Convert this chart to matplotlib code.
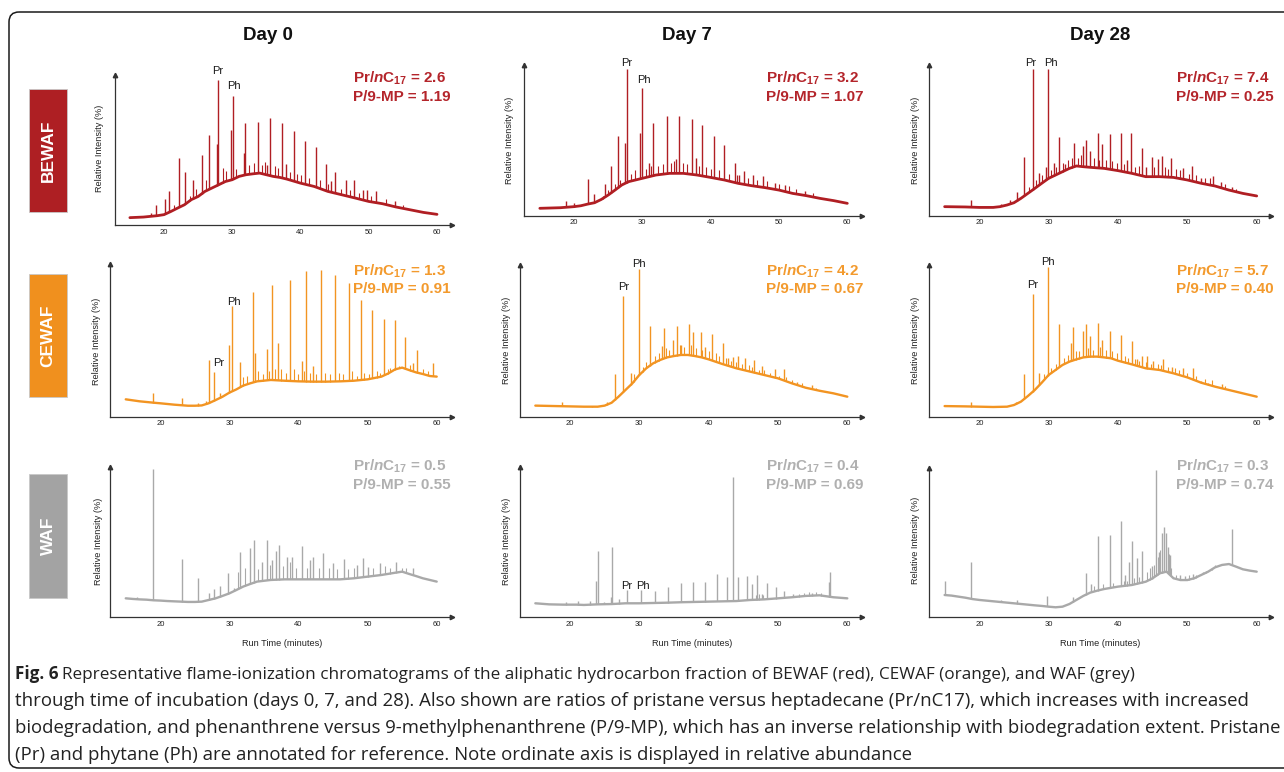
import numpy as np
import matplotlib
matplotlib.use("Agg")
import matplotlib.pyplot as plt
from matplotlib.patches import FancyBboxPatch, Rectangle

plt.rcParams['font.family'] = ['Liberation Sans', 'DejaVu Sans']
plt.rcParams['mathtext.fontset'] = 'custom'
plt.rcParams['mathtext.rm'] = 'Liberation Sans:bold'
plt.rcParams['mathtext.it'] = 'Liberation Sans:italic:bold'
plt.rcParams['mathtext.bf'] = 'Liberation Sans:bold'

# ---------------- data (% of axis height) ----------------
days = ["Day 0", "Day 7", "Day 28"]
samples = ["BEWAF", "CEWAF", "WAF"]
ticks = [20, 30, 40, 50, 60]

pr_nc17 = {"BEWAF": ["2.6", "3.2", "7.4"], "CEWAF": ["1.3", "4.2", "5.7"], "WAF": ["0.5", "0.4", "0.3"]}
p_9mp = {"BEWAF": ["1.19", "1.07", "0.25"], "CEWAF": ["0.91", "0.67", "0.40"], "WAF": ["0.55", "0.69", "0.74"]}

# BEWAF day 0
bewaf_d0_bt = [15, 17, 19, 20, 21, 22, 23, 24, 25, 26, 27, 28, 29, 30, 31, 32, 33, 34, 35, 36, 37, 38, 40, 42, 44, 46, 48, 50, 52, 54, 56, 58, 60]
bewaf_d0_by = [4.9, 5.3, 6.2, 6.9, 9, 11.3, 13.5, 16.9, 19, 22.4, 24.6, 26.8, 29, 30.2, 32.4, 33.5, 34.1, 34.6, 33.5, 32.4, 31.7, 30.6, 27.9, 25.7, 22.4, 20.2, 18, 15.7, 14.2, 12, 10.2, 8.4, 7.1]
bewaf_d0_pt = [18.1, 18.9, 20.1, 20.7, 22.2, 23.1, 24.3, 25.5, 26.6, 27.7, 27.9, 29.8, 30.1, 31.7, 31.9, 33.7, 35.1, 35.55, 37.3, 37.9, 39.0, 40.6, 42.2, 43.7, 44.5, 45.1, 46.6, 47.9, 49.1, 49.7, 51.0, 53.9]
bewaf_d0_ph = [8, 13.5, 17.5, 22.4, 44.6, 35, 30, 46.6, 60, 54, 96.7, 63.4, 86.3, 48, 68.3, 68.7, 40, 71.4, 67.8, 40.8, 62.7, 56.3, 52.1, 40.8, 29, 35.3, 30.2, 30.2, 23, 23, 22.4, 16.2]
bewaf_d0_mt = [21.5, 23.8, 24.7, 26.2, 28.6, 29.1, 30.6, 32.5, 33.2, 34.3, 34.8, 36.2, 36.7, 38.4, 39.5, 40.0, 41.3, 42.8, 44.0, 46.0, 47.2, 48.5, 50.3, 52.5, 55.0]
bewaf_d0_mh = [13, 19, 24, 30, 38, 36, 37, 40, 41, 40, 42, 39, 38, 35, 34, 33, 31, 30, 27, 24, 23, 21, 19, 17, 13.5]

# BEWAF day 7
bewaf_d7_bt = [15, 18, 20, 21, 22, 23, 24, 25, 26, 27, 28, 29, 30, 32, 34, 36, 38, 40, 42, 44, 46, 48, 50, 52, 54, 56, 58, 60]
bewaf_d7_by = [4.9, 5.3, 6, 6.6, 7.7, 8.6, 10.8, 13.7, 17, 20.4, 22.6, 23.7, 24.8, 27, 28.1, 28.1, 27, 25.4, 23.7, 21.5, 19.9, 18.6, 17, 14.8, 13.3, 11.5, 10, 8.2]
bewaf_d7_pt = [18.8, 20.0, 22.1, 23.0, 24.6, 25.4, 26.4, 27.5, 27.7, 29.7, 29.9, 31.0, 31.6, 33.6, 35.0, 35.4, 37.2, 37.9, 38.8, 40.5, 42.0, 43.5, 44.2, 44.9, 46.2, 47.6, 49.4, 50.9, 53.8]
bewaf_d7_ph = [9.7, 8.2, 24.3, 14.4, 21, 33.2, 52.9, 48, 97.1, 55, 84.5, 34.7, 61.7, 65.9, 37.4, 66.2, 64.2, 38.5, 60.2, 52.9, 46.9, 35.2, 27, 29.6, 27, 26.3, 21.9, 20.6, 16.6]
bewaf_d7_mt = [24.2, 25.0, 26.0, 26.8, 28.3, 28.9, 30.5, 31.2, 32.3, 33.0, 34.2, 34.7, 36.0, 36.6, 38.3, 39.3, 40.0, 41.2, 42.7, 43.8, 45.5, 46.8, 48.3, 50.0, 51.5, 52.5, 55.0]
bewaf_d7_mh = [13, 17, 21, 24, 28, 30, 31, 33, 33, 34, 35, 36, 35, 34, 33, 32, 31, 30, 28, 27, 25, 24, 23, 21, 19.5, 18, 15]

# BEWAF day 28
bewaf_d28_bt = [15, 18, 20, 22, 23, 24, 25, 26, 27, 28, 29, 30, 31, 32, 33, 34, 35, 36, 38, 40, 42, 44, 46, 48, 50, 52, 54, 56, 58, 60]
bewaf_d28_by = [6, 5.8, 5.5, 5.5, 6, 7.1, 8.6, 11.5, 14.8, 18.1, 21.5, 24.8, 27, 29.2, 31.4, 33, 32.5, 32.1, 31.4, 29.9, 28.1, 25.9, 25.9, 25.4, 23.7, 21.5, 19.7, 17, 14.8, 13.1]
bewaf_d28_pt = [18.85, 22.2, 23.1, 24.4, 25.4, 26.4, 27.7, 28.65, 29.6, 29.85, 30.7, 31.5, 32.4, 33.6, 35.0, 35.4, 36.0, 37.1, 37.7, 38.8, 40.4, 41.25, 41.9, 43.5, 44.1, 44.9, 45.7, 46.3, 47.6, 49.4, 50.7, 52.0, 53.75, 54.8, 56.5]
bewaf_d28_ph = [10.4, 6.6, 7.7, 10.4, 15.9, 39.2, 97.1, 28.1, 32.1, 97.1, 35.2, 52, 34.3, 48, 46.2, 50.2, 43.1, 54.9, 47.6, 54.4, 54.9, 36.9, 54.9, 44.7, 32.5, 39.2, 37.4, 39.6, 38.3, 31.4, 33, 25.2, 26.3, 22.6, 19.2]
bewaf_d28_mt = [27.2, 28.2, 29.0, 30.3, 31.0, 32.0, 32.8, 33.3, 34.2, 34.6, 36.5, 37.3, 38.3, 39.2, 39.8, 40.8, 42.5, 43.0, 45.2, 46.8, 47.2, 48.3, 49.0, 50.2, 51.2, 52.5, 53.2, 55.5, 57.0]
bewaf_d28_mh = [19, 24, 27, 30, 32, 35, 37, 38, 38, 40, 38, 37, 37, 36, 35, 34, 32, 33, 32, 32, 31, 31, 30, 28, 27, 25, 25, 21, 18]

# CEWAF day 0
cewaf_d0_bt = [15, 17, 19, 20, 22, 24, 25, 26, 27, 28, 29, 30, 31, 32, 33, 34, 36, 38, 40, 42, 44, 46, 48, 50, 52, 53, 54, 55, 56, 57, 58, 59, 60]
cewaf_d0_by = [11.4, 10.1, 9.2, 8.8, 7.9, 7.2, 7.2, 7.4, 8.8, 10.9, 13.1, 15.8, 17.9, 20.4, 21.9, 23.2, 24.1, 23.6, 23.2, 23, 23, 23.2, 23.6, 24.5, 26.3, 28.4, 31.1, 32.2, 30.6, 29.1, 28, 26.7, 26.3]
cewaf_d0_pt = [18.9, 23.2, 25.45, 26.6, 27.05, 27.8, 28.7, 29.9, 30.4, 31.6, 33.45, 33.65, 35.4, 36.15, 37.1, 38.7, 40.5, 41.05, 42.05, 43.25, 45.3, 47.25, 49.0, 50.7, 52.4, 53.9, 55.4, 56.6, 57.2, 59.4]
cewaf_d0_ph = [15.3, 12, 8.8, 10.5, 37.2, 29.5, 15.3, 47, 72.6, 36.1, 81.6, 41.6, 44.4, 86.4, 48.1, 89.7, 36.8, 95.6, 33.3, 96.3, 93, 88, 76.6, 70, 64.1, 63.5, 52.5, 35, 43.8, 35]
cewaf_d0_mt = [32.0, 32.5, 34.2, 34.8, 35.8, 36.6, 37.5, 38.2, 39.4, 39.9, 40.8, 41.6, 42.6, 43.8, 44.5, 45.8, 46.4, 47.8, 48.4, 49.5, 50.2, 51.3, 51.8, 52.9, 53.3, 54.5, 56.2, 58.0, 58.7]
cewaf_d0_mh = [26, 27, 30, 28, 30, 31, 31, 29, 31, 28, 30, 29, 28, 29, 28, 29, 28, 30, 27, 29, 28, 30, 29, 31, 32, 33, 34, 31, 30]

# CEWAF day 7
cewaf_d7_bt = [15, 18, 20, 22, 24, 25, 26, 27, 28, 29, 30, 31, 32, 33, 34, 35, 36, 37, 38, 39, 40, 42, 44, 46, 48, 50, 52, 54, 56, 58, 60]
cewaf_d7_by = [7.3, 7, 6.8, 6.6, 6.6, 7.3, 9.2, 13.2, 17.6, 22, 27.5, 31.9, 35.2, 37.4, 39.1, 40, 40.7, 40.7, 40, 39.1, 37.8, 34.7, 31.9, 29.7, 27.5, 25.3, 22, 19.1, 17.1, 15.4, 13.2]
cewaf_d7_pt = [18.9, 23.2, 25.3, 26.5, 27.7, 28.75, 29.95, 31.55, 33.3, 33.6, 34.9, 35.4, 36.05, 37.15, 37.8, 38.85, 39.5, 40.45, 42.1, 42.85, 43.55, 44.3, 45.25, 46.6, 47.7, 49.6, 50.8, 52.7, 54.85]
cewaf_d7_ph = [9.5, 7.3, 9.9, 27.9, 79.6, 28.6, 97.4, 60, 46.6, 58.5, 50.5, 59.8, 47.3, 61.1, 56, 55.8, 46.2, 54.3, 48.8, 38.5, 39.1, 40, 38.5, 37.4, 33.4, 31.2, 31.2, 23.1, 20.9]
cewaf_d7_mt = [29.2, 30.5, 31.0, 32.2, 32.8, 33.9, 34.3, 35.8, 36.4, 37.5, 38.2, 39.0, 40.0, 41.0, 41.5, 42.5, 43.2, 44.0, 44.8, 45.8, 46.2, 47.2, 48.0, 48.8, 50.2, 51.2, 52.0, 53.5, 55.5]
cewaf_d7_mh = [28, 33, 36, 40, 42, 45, 44, 47, 46, 47, 45, 44, 43, 42, 40, 39, 37, 36, 35, 34, 33, 31, 31, 29, 27, 26, 24, 22, 19]

# CEWAF day 28
cewaf_d28_bt = [15, 18, 20, 22, 24, 25, 26, 27, 28, 29, 30, 31, 32, 33, 34, 35, 36, 37, 38, 39, 40, 42, 44, 46, 48, 50, 52, 54, 56, 58, 60]
cewaf_d28_by = [7, 6.8, 6.6, 6.4, 6.6, 7.7, 9.9, 13.6, 17.6, 22.4, 27.5, 30.8, 34.1, 36.3, 37.8, 39.1, 39.6, 39.6, 39.1, 38.5, 36.9, 34.5, 31.9, 30.8, 28.6, 25.9, 22.4, 19.8, 17.6, 15.4, 13.2]
cewaf_d28_pt = [18.85, 23.1, 25.3, 26.4, 27.7, 28.65, 29.85, 31.55, 33.2, 33.55, 34.95, 35.4, 35.95, 37.1, 37.75, 38.8, 40.4, 42.0, 42.8, 43.45, 44.25, 45.0, 46.55, 47.75, 49.4, 50.8, 52.0, 53.0, 54.95]
cewaf_d28_ph = [9.5, 7.3, 9.9, 28.1, 80.9, 29, 98.9, 60.9, 48.4, 59.3, 56.7, 60.9, 53.2, 62, 50.5, 56.7, 53.8, 49.9, 37.8, 40, 40, 36.9, 37.8, 33, 31.9, 31.9, 23.5, 22.4, 21.3]
cewaf_d28_mt = [29.3, 30.3, 31.0, 32.2, 32.8, 33.9, 34.4, 35.7, 36.4, 37.4, 38.3, 39.2, 39.8, 41.0, 41.5, 42.4, 43.0, 44.0, 44.8, 45.8, 46.2, 47.2, 48.2, 48.8, 50.0, 51.2, 52.5, 53.5, 55.5]
cewaf_d28_mh = [28, 32, 35, 39, 41, 43, 43, 45, 44, 46, 44, 43, 42, 40, 39, 38, 37, 36, 35, 35, 34, 33, 32, 31, 29, 27, 25, 24, 20]

# WAF day 0
waf_d0_bt = [15, 16, 17, 18, 19, 20, 21, 22, 23, 24, 25, 26, 27, 28, 29, 30, 31, 32, 33, 34, 36, 38, 40, 42, 44, 46, 48, 50, 52, 54, 55, 56, 57, 58, 59, 60]
waf_d0_by = [12.6, 12.2, 11.9, 11.7, 11.3, 11.1, 10.8, 10.6, 10.4, 10.2, 10.2, 10.4, 11.5, 12.6, 14.2, 15.9, 18.1, 20.4, 22.1, 23.7, 24.8, 25.2, 25.2, 25.2, 25.2, 25.2, 25.9, 27, 28.1, 29.6, 30.3, 28.8, 27.4, 25.9, 24.8, 23.7]
waf_d0_pt = [16.7, 18.9, 23.2, 25.4, 27.05, 27.8, 28.7, 29.75, 30.65, 31.6, 33.0, 33.6, 34.75, 35.4, 36.1, 36.7, 37.2, 38.4, 39.0, 40.5, 41.65, 42.15, 43.6, 45.0, 46.6, 48.4, 49.3, 50.1, 51.8, 54.1, 56.6]
waf_d0_ph = [13.7, 98.2, 38.5, 25.9, 15.9, 18.6, 21, 29.6, 19.2, 43.6, 45.8, 51.3, 36.9, 51.3, 38.1, 44, 48, 40.3, 40.3, 47.3, 38.1, 39.8, 42.9, 36.3, 38.5, 34.7, 39.2, 33.2, 36.3, 36.9, 32.5]
waf_d0_mt = [31.2, 32.3, 34.2, 35.9, 37.7, 38.7, 39.6, 41.2, 43.0, 44.4, 45.6, 47.2, 48.0, 50.8, 52.5, 53.2, 55.0, 55.6]
waf_d0_mh = [30, 33, 32, 35, 34, 37, 33, 33, 33, 33, 32, 32, 33, 33, 34, 33, 33, 33]

# WAF day 7
waf_d7_bt = [15, 17, 19, 21, 22, 24, 26, 28, 30, 32, 34, 36, 38, 40, 42, 44, 46, 48, 50, 52, 54, 56, 58, 60]
waf_d7_by = [9.3, 8.6, 8.4, 8.4, 8.2, 8.6, 8.8, 9.3, 9.3, 9.5, 9.7, 10, 10.2, 10.4, 10.6, 10.8, 11.5, 11.9, 12.6, 13.3, 14.2, 14.6, 13.3, 12.6]
waf_d7_pt = [19.4, 21.2, 22.9, 23.7, 24.0, 24.9, 25.9, 26.05, 27.0, 28.2, 30.3, 32.3, 34.2, 36.05, 37.8, 39.5, 41.15, 42.7, 43.45, 44.2, 45.6, 46.3, 47.0, 47.65, 48.35, 49.65, 50.9, 52.1, 54.95, 57.4, 57.55]
waf_d7_ph = [10, 11.1, 11.1, 24.3, 44.2, 10.4, 13.3, 46.9, 11.9, 18.1, 18.1, 17.7, 20.4, 23, 23.7, 23.7, 28.8, 26.5, 92.9, 27, 27.2, 22.1, 28.1, 15.5, 23, 20.4, 17.7, 15.3, 16.4, 23.7, 30.3]
waf_d7_mt = [46.8, 47.3, 47.8, 53.0, 53.8, 54.5, 55.5, 56.2]
waf_d7_mh = [15, 15.5, 15, 15.5, 16, 16.5, 16.5, 16]

# WAF day 28
waf_d28_bt = [15, 16, 17, 18, 19, 20, 22, 24, 26, 28, 29, 30, 31, 32, 33, 34, 35, 36, 37, 38, 40, 42, 44, 45, 46, 47, 48, 49, 50, 51, 52, 53, 54, 55, 56, 57, 58, 59, 60]
waf_d28_by = [14.9, 14.5, 13.8, 13.1, 12.2, 11.6, 10.7, 9.8, 8.9, 8, 7.6, 7.1, 6.7, 7.1, 8.9, 11.6, 14.3, 16.5, 17.8, 18.9, 20.5, 21.6, 23.8, 26.1, 29.4, 30.5, 26.1, 24.9, 24.9, 26.1, 28.3, 30.5, 33.4, 35, 35.6, 33.9, 32.1, 31.2, 30.5]
waf_d28_pt = [15.1, 18.85, 23.2, 25.4, 29.7, 33.45, 35.35, 36.1, 37.1, 38.8, 40.4, 41.05, 41.65, 42.0, 42.7, 43.45, 44.85, 45.5, 45.9, 46.3, 46.6, 46.9, 47.15, 47.5, 48.95, 49.65, 50.75, 52.2, 56.4]
waf_d28_ph = [24.3, 36.7, 11.6, 11.6, 14.3, 13.8, 29.8, 22.3, 54.3, 54.8, 64.4, 28.3, 36.7, 51, 39.4, 44.5, 34.5, 98.4, 43.9, 56.6, 60.6, 56.6, 47.2, 41.6, 28.3, 27.6, 28.7, 30.5, 59]
waf_d28_mt = [36.6, 37.8, 39.3, 40.8, 41.3, 42.3, 43.0, 44.2, 44.6, 45.2, 45.7, 46.1, 47.3, 47.7, 48.3, 50.2, 51.2, 52.7, 53.5, 54.0]
waf_d28_mh = [21, 22, 23, 24, 24, 26, 27, 30, 33, 35, 40, 45, 42, 33, 28, 28, 28, 31, 33, 35]

traces = {
    ("BEWAF", 0): (bewaf_d0_bt, bewaf_d0_by, bewaf_d0_pt, bewaf_d0_ph, bewaf_d0_mt, bewaf_d0_mh),
    ("BEWAF", 1): (bewaf_d7_bt, bewaf_d7_by, bewaf_d7_pt, bewaf_d7_ph, bewaf_d7_mt, bewaf_d7_mh),
    ("BEWAF", 2): (bewaf_d28_bt, bewaf_d28_by, bewaf_d28_pt, bewaf_d28_ph, bewaf_d28_mt, bewaf_d28_mh),
    ("CEWAF", 0): (cewaf_d0_bt, cewaf_d0_by, cewaf_d0_pt, cewaf_d0_ph, cewaf_d0_mt, cewaf_d0_mh),
    ("CEWAF", 1): (cewaf_d7_bt, cewaf_d7_by, cewaf_d7_pt, cewaf_d7_ph, cewaf_d7_mt, cewaf_d7_mh),
    ("CEWAF", 2): (cewaf_d28_bt, cewaf_d28_by, cewaf_d28_pt, cewaf_d28_ph, cewaf_d28_mt, cewaf_d28_mh),
    ("WAF", 0): (waf_d0_bt, waf_d0_by, waf_d0_pt, waf_d0_ph, waf_d0_mt, waf_d0_mh),
    ("WAF", 1): (waf_d7_bt, waf_d7_by, waf_d7_pt, waf_d7_ph, waf_d7_mt, waf_d7_mh),
    ("WAF", 2): (waf_d28_bt, waf_d28_by, waf_d28_pt, waf_d28_ph, waf_d28_mt, waf_d28_mh),
}

# Pr / Ph annotation positions (time, % height)
pr_ph_labels = {
    ("BEWAF", 0): [("Pr", 27.9, 102.9), ("Ph", 30.2, 92.7)],
    ("BEWAF", 1): [("Pr", 27.7, 101.5), ("Ph", 30.2, 90.0)],
    ("BEWAF", 2): [("Pr", 27.45, 101.1), ("Ph", 30.4, 101.1)],
    ("CEWAF", 0): [("Pr", 28.4, 35.4), ("Ph", 30.7, 75.5)],
    ("CEWAF", 1): [("Pr", 27.8, 85.3), ("Ph", 30.0, 100.7)],
    ("CEWAF", 2): [("Pr", 27.65, 86.8), ("Ph", 29.95, 101.9)],
    ("WAF", 1): [("Pr", 28.2, 21.0), ("Ph", 30.5, 21.0)],
}

line_colors = {"BEWAF": "#B01E23", "CEWAF": "#F29422", "WAF": "#A9A9A9"}
text_colors = {"BEWAF": "#B4252B", "CEWAF": "#F39A2D", "WAF": "#B0B0B0"}
box_colors = {"BEWAF": "#AE1F23", "CEWAF": "#F0901E", "WAF": "#A3A3A3"}
hump_lw = {"BEWAF": 2.0, "CEWAF": 1.7, "WAF": 1.7}

# ---------------- layout (pixels) ----------------
W, H = 1284, 772
fig = plt.figure(figsize=(W / 100, H / 100), dpi=100)
bg = fig.add_axes([0, 0, 1, 1])
bg.set_xlim(0, W)
bg.set_ylim(H, 0)
bg.axis("off")

# panel geometry: left, bottom, right, top, x(20), x(60)
geom = {
    (0, 0): (115, 225, 452, 75, 164, 437),
    (0, 1): (524.3, 215.7, 861.7, 65, 574, 847.3),
    (0, 2): (929.3, 215.7, 1270.7, 65, 979.3, 1256.7),
    (1, 0): (109.7, 416.7, 451.7, 264.3, 160.3, 436.7),
    (1, 1): (520, 416.7, 861.7, 265, 570, 847.3),
    (1, 2): (929.3, 416.7, 1270.7, 265, 979.3, 1256.7),
    (2, 0): (109.7, 617.3, 451.7, 466.7, 160.3, 436.7),
    (2, 1): (520, 617.3, 861.7, 466.7, 570, 847.3),
    (2, 2): (929.3, 617.3, 1270.7, 467.7, 979.3, 1256.7),
}
ylab_pos = {
    (0, 0): (99, 148), (0, 1): (509.3, 140.7), (0, 2): (916, 140.8),
    (1, 0): (96.7, 341), (1, 1): (506.7, 340.7), (1, 2): (916, 340.7),
    (2, 0): (98.3, 541), (2, 1): (506.7, 541), (2, 2): (916, 540.3),
}
ratio_x = [352.7, 766, 1176]
ratio_base = [(83, 100.7), (275.3, 293), (471, 489)]
title_x = [267.7, 687, 1100]
xlabel_x = [282, 692, 1100]
box_y = [(89, 212.3), (274.3, 396.7), (474.3, 597.7)]

axis_col = "#333333"

# outer rounded frame
frame = FancyBboxPatch((9, 12), 1320, 756, boxstyle="round,pad=0,rounding_size=10",
                       fill=False, edgecolor="#1a1a1a", linewidth=1.1, zorder=0)
bg.add_patch(frame)

for c, d in enumerate(days):
    bg.text(title_x[c], 36, d, ha="center", va="center", fontsize=13.5, fontweight="bold", color="#111111")

for r, s in enumerate(samples):
    y0, y1 = box_y[r]
    bg.add_patch(Rectangle((29.3, y0), 37.4, y1 - y0, facecolor=box_colors[s],
                           edgecolor="#c8c8c8", linewidth=0.6, zorder=1))
    bg.text(48, (y0 + y1) / 2, s, rotation=90, ha="center", va="center", color="white",
            fontsize=12.5, fontweight="bold", zorder=2)

    for c in range(3):
        L, B, R, T, x20, x60 = geom[(r, c)]
        ax = fig.add_axes([L / W, 1 - B / H, (R - L) / W, (B - T) / H])
        sc = (x60 - x20) / 40.0
        ax.set_xlim(20 - (x20 - L) / sc, 60 + (R - x60) / sc)
        ax.set_ylim(0, 100)
        ax.patch.set_visible(False)
        for sp in ["top", "right"]:
            ax.spines[sp].set_visible(False)
        for sp in ["left", "bottom"]:
            ax.spines[sp].set_color(axis_col)
            ax.spines[sp].set_linewidth(0.9)
        ax.plot([1], [0], marker=">", ms=3.2, color=axis_col, transform=ax.transAxes, clip_on=False)
        ax.plot([0], [1], marker="^", ms=3.2, color=axis_col, transform=ax.transAxes, clip_on=False)
        ax.set_xticks(ticks)
        ax.set_yticks([])
        ax.tick_params(axis="x", length=0, labelsize=5.5, pad=2.6, labelcolor="#222222")

        bt, by, pt, ph, mt, mh = traces[(s, c)]
        col = line_colors[s]
        ax.plot(bt, by, color=col, lw=hump_lw[s], solid_joinstyle="round", solid_capstyle="round",
                clip_on=False)
        ax.vlines(mt, np.interp(mt, bt, by), mh, color=col, lw=0.8)
        ax.vlines(pt, np.interp(pt, bt, by), ph, color=col, lw=1.0)

        for lab, tx, ty in pr_ph_labels.get((s, c), []):
            ax.text(tx, ty, lab, ha="center", va="center", fontsize=8, color="#1a1a1a", clip_on=False)

        xl, yl = ylab_pos[(r, c)]
        bg.text(xl, yl, "Relative Intensity (%)", rotation=90, ha="center", va="center",
                fontsize=6.6, color="#222222")

        b1, b2 = ratio_base[r]
        bg.text(ratio_x[c], b1, r"Pr/$\mathit{n}$C$_{17}$ = " + pr_nc17[s][c], ha="left", va="baseline",
                fontsize=11, fontweight="bold", color=text_colors[s])
        bg.text(ratio_x[c], b2, "P/9-MP = " + p_9mp[s][c], ha="left", va="baseline",
                fontsize=11, fontweight="bold", color=text_colors[s])

for c in range(3):
    bg.text(xlabel_x[c], 643, "Run Time (minutes)", ha="center", va="center", fontsize=6.6, color="#222222")

# ---------------- caption ----------------
cap_lines = [
    "Representative flame-ionization chromatograms of the aliphatic hydrocarbon fraction of BEWAF (red), CEWAF (orange), and WAF (grey)",
    "through time of incubation (days 0, 7, and 28). Also shown are ratios of pristane versus heptadecane (Pr/nC17), which increases with increased",
    "biodegradation, and phenanthrene versus 9-methylphenanthrene (P/9-MP), which has an inverse relationship with biodegradation extent. Pristane",
    "(Pr) and phytane (Ph) are annotated for reference. Note ordinate axis is displayed in relative abundance",
]
cap_font = ["Open Sans", "DejaVu Sans"]
cap_col = "#222222"
cap_x0 = 15
cap_end = [1033, 1251, 1279, 912]
cap_base = [679, 706, 733, 760]
renderer = fig.canvas.get_renderer()


def fitted_size(s, target_w, **kw):
    fs0 = 12.0
    t = bg.text(0, 0, s, fontsize=fs0, family=cap_font, **kw)
    for _ in range(3):
        w = t.get_window_extent(renderer=renderer).width
        fs0 = fs0 * target_w / w
        t.set_fontsize(fs0)
    t.remove()
    return fs0


fs_ref = fitted_size(cap_lines[1], cap_end[1] - cap_x0)
fs_first = fs_ref * 0.92
t1 = bg.text(cap_x0, cap_base[0], "Fig. 6", fontsize=fs_first, family=cap_font, fontweight="bold",
             va="baseline", color=cap_col)
bb = t1.get_window_extent(renderer=renderer)
bg.text(bb.x1 + 4, cap_base[0], cap_lines[0], fontsize=fs_first, family=cap_font, va="baseline", color=cap_col)
for i in range(1, 4):
    fs_i = fitted_size(cap_lines[i], cap_end[i] - cap_x0)
    bg.text(cap_x0, cap_base[i], cap_lines[i], fontsize=fs_i, family=cap_font, va="baseline", color=cap_col)

fig.savefig("out.png", dpi=100)
